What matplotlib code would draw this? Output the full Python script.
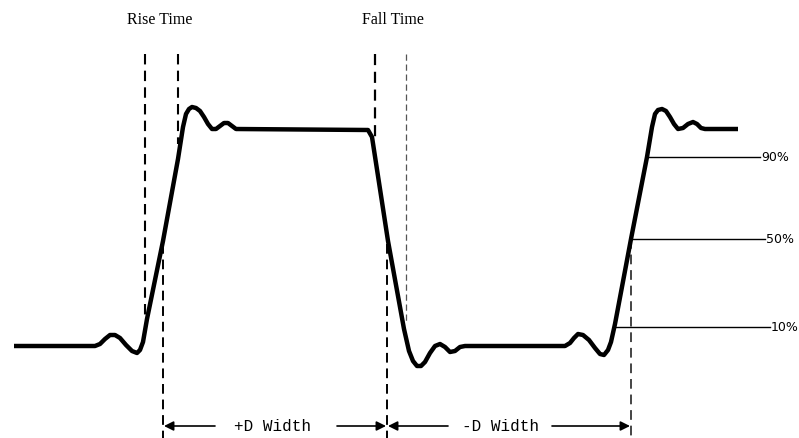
import matplotlib.pyplot as plt

# Forma de onda (coordenadas de la imagen, y hacia abajo)
onda_x = [14, 95, 100, 105, 110, 115, 120, 126, 132, 137, 140, 143,
          147, 163, 178, 183, 186, 189, 192, 196, 200, 204, 208, 212, 216, 220, 224, 228, 232, 236,
          368, 372, 388, 404, 409, 413, 417, 421, 425, 430, 435, 440, 445, 450, 455, 460, 465,
          565, 570, 574, 578, 583, 589, 595, 600, 604, 608, 611,
          615, 631, 647, 652, 655, 658, 662, 666, 670, 674, 678, 683, 688, 693, 697, 701, 705, 738]
onda_y = [347, 347, 345, 340, 336, 336, 339, 346, 352, 354, 351, 343,
          320, 242, 160, 128, 115, 110, 108, 109, 112, 118, 125, 130, 130, 127, 124, 124, 127, 130,
          131, 138, 242, 330, 352, 362, 367, 367, 363, 354, 347, 345, 348, 353, 352, 348, 347,
          347, 344, 339, 335, 336, 341, 349, 355, 356, 351, 343,
          325, 240, 158, 128, 115, 111, 110, 112, 118, 125, 130, 129, 125, 123, 125, 129, 130, 130]

# Lineas de referencia horizontales (niveles)
niveles = ["90%", "50%", "10%"]
niveles_y = [158, 240, 328]
niveles_x0 = [647, 632, 615]
niveles_x1 = [760, 765, 770]

# Lineas verticales discontinuas: x, y superior, y inferior, grosor, color
verticales_x = [145, 178, 375, 406, 163, 387, 631]
verticales_y0 = [55, 55, 55, 55, 245, 245, 240]
verticales_y1 = [318, 145, 140, 325, 439, 439, 439]
verticales_lw = [1.5, 1.5, 1.6, 0.9, 1.4, 1.4, 1.4]
verticales_col = ["black", "black", "black", "#555555", "black", "black", "#444444"]

# Anchos de pulso: texto y extremos de las flechas
anchos = ["+D Width", "-D Width"]
anchos_x0 = [163, 387]
anchos_x1 = [387, 631]
anchos_texto_x = [273, 500]
anchos_hueco_izq = [215, 448]
anchos_hueco_der = [337, 552]

fig = plt.figure(figsize=(7.99, 4.39), dpi=100)
ax = fig.add_axes([0, 0, 1, 1])
ax.set_xlim(0, 799)
ax.set_ylim(439, 0)
ax.axis("off")

for x, y0, y1, lw, c in zip(verticales_x, verticales_y0, verticales_y1, verticales_lw, verticales_col):
    ax.plot([x, x], [y0, y1], color=c, lw=lw, linestyle=(0, (5, 3)))

for nombre, y, x0, x1 in zip(niveles, niveles_y, niveles_x0, niveles_x1):
    ax.plot([x0, x1], [y, y], color="black", lw=1.0)
    ax.text(x1 + 1, y, nombre, fontsize=9, va="center", ha="left", family="DejaVu Sans")

ax.plot(onda_x, onda_y, color="black", lw=3.2, solid_joinstyle="round", solid_capstyle="butt")

# Titulos
ax.text(160, 20, "Rise Time", fontsize=11.5, ha="center", va="center", family="Liberation Serif")
ax.text(393, 20, "Fall Time", fontsize=11.5, ha="center", va="center", family="Liberation Serif")

# Flechas de ancho de pulso
y_flecha = 427
for nombre, x0, x1, xt, hi, hd in zip(anchos, anchos_x0, anchos_x1, anchos_texto_x,
                                      anchos_hueco_izq, anchos_hueco_der):
    ax.text(xt, y_flecha, nombre, fontsize=11.5, ha="center", va="center", family="Liberation Mono")
    ax.annotate("", xy=(x0 + 1, y_flecha), xytext=(hi, y_flecha),
                arrowprops=dict(arrowstyle="-|>", color="black", lw=1.2, mutation_scale=14,
                                shrinkA=0, shrinkB=0))
    ax.annotate("", xy=(x1 - 1, y_flecha), xytext=(hd, y_flecha),
                arrowprops=dict(arrowstyle="-|>", color="black", lw=1.2, mutation_scale=14,
                                shrinkA=0, shrinkB=0))

fig.savefig("out.png", dpi=100)
